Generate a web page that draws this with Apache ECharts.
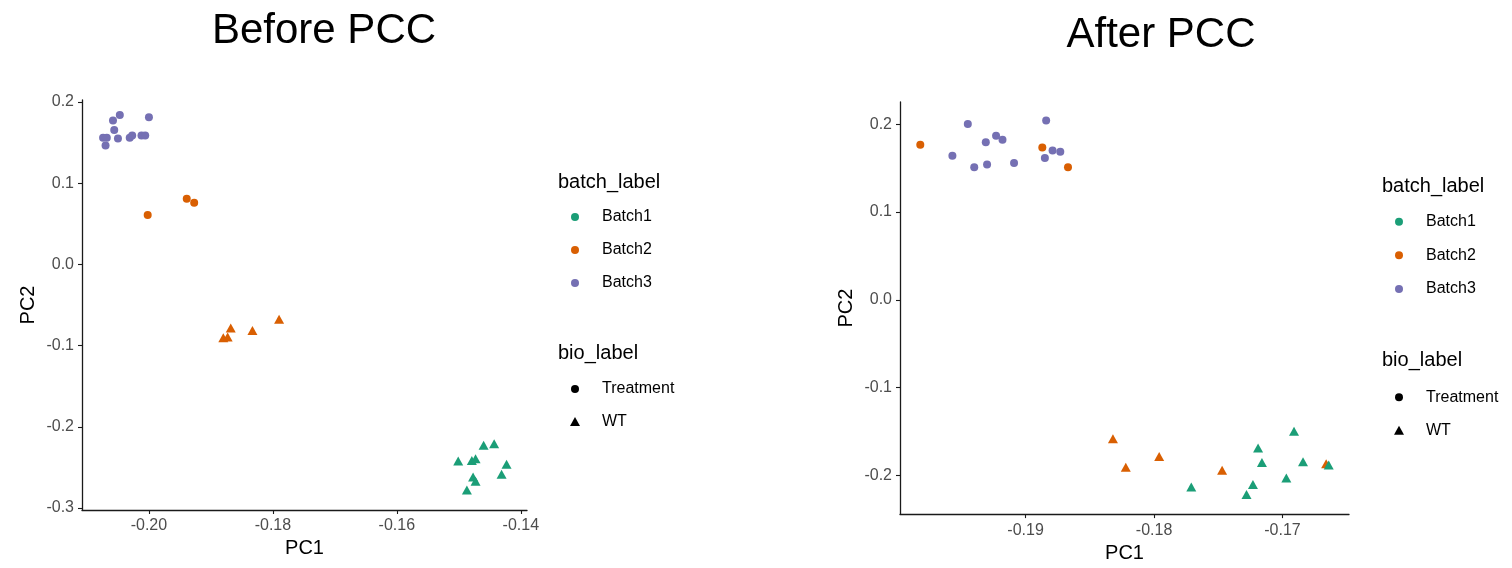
<!DOCTYPE html>
<html lang="en" style="height: 100%">
<head>
    <meta charset="UTF-8">
    <title>Before / After PCC</title>
    <script src="https://cdn.jsdelivr.net/npm/echarts@6/dist/echarts.min.js"></script>
</head>
<body style="height: 100%; margin: 0; background: #fff">
<div id="container" style="width: 1512px; height: 568px"></div>

<script type="text/javascript">
    // colours (Dark2)
    var batchColors = ['#1B9E77', '#D95F02', '#7570B3'];
    var batchNames = ['Batch1', 'Batch2', 'Batch3'];
    var bioNames = ['Treatment', 'WT'];

    // ---- Before PCC : [PC1, PC2]
    var beforeBatch3Treatment = [
        [-0.2047, 0.1839], [-0.2058, 0.1773], [-0.2000, 0.1814], [-0.2056, 0.1654],
        [-0.2074, 0.1560], [-0.2068, 0.1560], [-0.2050, 0.1552], [-0.2031, 0.1560],
        [-0.2027, 0.1589], [-0.2012, 0.1589], [-0.2006, 0.1589], [-0.2070, 0.1466]
    ];
    var beforeBatch2Treatment = [[-0.1939, 0.0809], [-0.1927, 0.0760], [-0.2002, 0.0607]];
    var beforeBatch2WT = [
        [-0.1868, -0.0784], [-0.1833, -0.0813], [-0.1790, -0.0677],
        [-0.1880, -0.0903], [-0.1873, -0.0895]
    ];
    var beforeBatch1WT = [
        [-0.1460, -0.2229], [-0.1443, -0.2208], [-0.1501, -0.2422], [-0.1479, -0.2414],
        [-0.1473, -0.2393], [-0.1423, -0.2463], [-0.1431, -0.2586], [-0.1477, -0.2619],
        [-0.1473, -0.2672], [-0.1487, -0.2780]
    ];

    // ---- After PCC
    var afterBatch3Treatment = [
        [-0.1945, 0.2004], [-0.1884, 0.2043], [-0.1923, 0.1870], [-0.1918, 0.1825],
        [-0.1931, 0.1796], [-0.1957, 0.1642], [-0.1940, 0.1511], [-0.1930, 0.1541],
        [-0.1909, 0.1560], [-0.1885, 0.1616], [-0.1879, 0.1701], [-0.1873, 0.1687]
    ];
    var afterBatch2Treatment = [[-0.1982, 0.1766], [-0.1887, 0.1735], [-0.1867, 0.1511]];
    var afterBatch2WT = [
        [-0.1832, -0.1582], [-0.1822, -0.1908], [-0.1796, -0.1785],
        [-0.1747, -0.1942], [-0.1666, -0.1868]
    ];
    var afterBatch1WT = [
        [-0.1691, -0.1497], [-0.1719, -0.1688], [-0.1716, -0.1852], [-0.1684, -0.1845],
        [-0.1664, -0.1882], [-0.1697, -0.2031], [-0.1723, -0.2103], [-0.1728, -0.2219],
        [-0.1771, -0.2132]
    ];

    // tick values
    var beforeXTicks = [-0.20, -0.18, -0.16, -0.14];
    var beforeYTicks = [0.2, 0.1, 0, -0.1, -0.2, -0.3];
    var afterXTicks = [-0.19, -0.18, -0.17];
    var afterYTicks = [0.2, 0.1, 0, -0.1, -0.2];

    var font = "'Liberation Sans', Arial, Helvetica, sans-serif";
    var axisColor = '#1a1a1a';

    function makeAxis(idx, min, max, ticks, digits, name, nameGap) {
        return {
            type: 'value',
            gridIndex: idx,
            min: min,
            max: max,
            name: name,
            nameLocation: 'middle',
            nameGap: nameGap,
            nameTextStyle: {color: '#000', fontSize: 20, fontFamily: font},
            splitLine: {show: false},
            axisLine: {show: true, onZero: false, lineStyle: {color: axisColor, width: 1.3}},
            axisTick: {show: true, length: 4, customValues: ticks, lineStyle: {color: axisColor, width: 1.1}},
            axisLabel: {
                customValues: ticks,
                margin: 8,
                color: '#4d4d4d',
                fontSize: 16,
                fontFamily: font,
                formatter: function (v) { return v.toFixed(digits); }
            }
        };
    }

    function pointSeries(data, batch, bio, idx) {
        return {
            type: 'scatter',
            name: batchNames[batch],
            xAxisIndex: idx,
            yAxisIndex: idx,
            data: data,
            symbol: bio === 0 ? 'circle' : 'triangle',
            symbolSize: bio === 0 ? 8 : [10, 9],
            itemStyle: {color: batchColors[batch], opacity: 1},
            silent: true
        };
    }

    // legend drawn as graphics; k stretches the vertical spacing
    function legend(x, y, k) {
        var g = [];
        g.push({type: 'text', x: x, y: y, style: {text: 'batch_label', fill: '#000', font: '20px ' + font, verticalAlign: 'middle'}});
        for (var i = 0; i < batchNames.length; i++) {
            var cy = y + (35 + i * 33) * k;
            g.push({type: 'circle', shape: {cx: x + 17, cy: cy, r: 4}, style: {fill: batchColors[i]}});
            g.push({type: 'text', x: x + 44, y: cy, style: {text: batchNames[i], fill: '#000', font: '16px ' + font, verticalAlign: 'middle'}});
        }
        var by = y + 171 * k;
        g.push({type: 'text', x: x, y: by, style: {text: 'bio_label', fill: '#000', font: '20px ' + font, verticalAlign: 'middle'}});
        var ty = by + 36 * k;
        g.push({type: 'circle', shape: {cx: x + 17, cy: ty, r: 4}, style: {fill: '#000'}});
        g.push({type: 'text', x: x + 44, y: ty, style: {text: bioNames[0], fill: '#000', font: '16px ' + font, verticalAlign: 'middle'}});
        var wy = ty + 33 * k;
        g.push({type: 'polygon', shape: {points: [[x + 17, wy - 5], [x + 22, wy + 4], [x + 12, wy + 4]]}, style: {fill: '#000'}});
        g.push({type: 'text', x: x + 44, y: wy, style: {text: bioNames[1], fill: '#000', font: '16px ' + font, verticalAlign: 'middle'}});
        return g;
    }

    var graphics = [
        {type: 'text', x: 324, y: 31, style: {text: 'Before PCC', fill: '#000', font: '42px ' + font, align: 'center', verticalAlign: 'middle'}},
        {type: 'text', x: 1161, y: 35, style: {text: 'After PCC', fill: '#000', font: '42px ' + font, align: 'center', verticalAlign: 'middle'}}
    ].concat(legend(558, 182, 1)).concat(legend(1382, 186, 1.02));

    var dom = document.getElementById('container');
    var myChart = echarts.init(dom, null, {renderer: 'canvas'});

    var option = {
        backgroundColor: '#fff',
        animation: false,
        grid: [
            {left: 82, top: 100, width: 445, height: 410},
            {left: 900, top: 102, width: 449, height: 418}
        ],
        xAxis: [
            makeAxis(0, -0.2108, -0.1390, beforeXTicks, 2, 'PC1', 28),
            makeAxis(1, -0.19978, -0.16482, afterXTicks, 2, 'PC1', 28)
        ],
        yAxis: [
            makeAxis(0, -0.3025, 0.2025, beforeYTicks, 1, 'PC2', 44),
            makeAxis(1, -0.2441, 0.2254, afterYTicks, 1, 'PC2', 44)
        ],
        series: [
            pointSeries(beforeBatch3Treatment, 2, 0, 0),
            pointSeries(beforeBatch2Treatment, 1, 0, 0),
            pointSeries(beforeBatch2WT, 1, 1, 0),
            pointSeries(beforeBatch1WT, 0, 1, 0),
            pointSeries(afterBatch3Treatment, 2, 0, 1),
            pointSeries(afterBatch2Treatment, 1, 0, 1),
            pointSeries(afterBatch2WT, 1, 1, 1),
            pointSeries(afterBatch1WT, 0, 1, 1)
        ],
        graphic: graphics
    };

    myChart.setOption(option);
</script>
</body>
</html>
